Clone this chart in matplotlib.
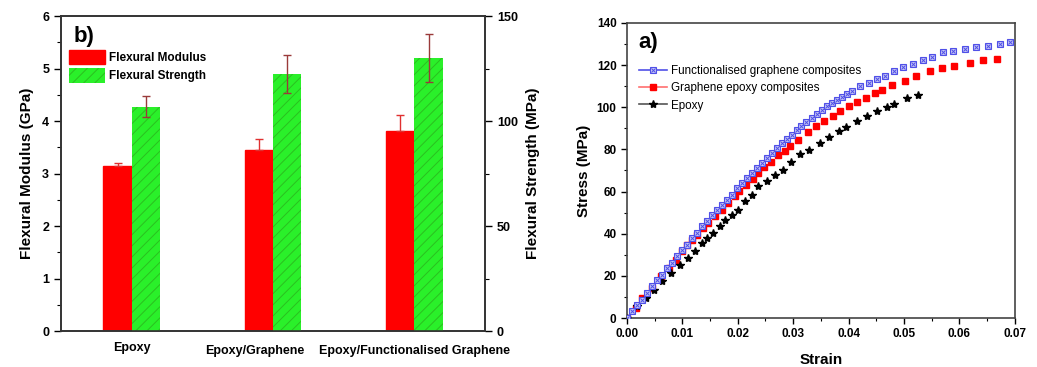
import numpy as np
import matplotlib.pyplot as plt
import matplotlib.transforms as mtransforms
from matplotlib.lines import Line2D
from matplotlib.ticker import MultipleLocator

plt.rcParams['font.family'] = ['Liberation Sans', 'DejaVu Sans']
plt.rcParams['font.weight'] = 'bold'
plt.rcParams['hatch.linewidth'] = 0.7

# --- datos panel b (barras) ---
muestras = ['Epoxy', 'Epoxy/Graphene', 'Epoxy/Functionalised Graphene']
modulo = [3.15, 3.45, 3.82]          # GPa
modulo_err = [0.06, 0.20, 0.30]
resistencia = [106.8, 122.5, 130.0]  # MPa
resistencia_err = [5.0, 9.0, 11.4]

# --- datos panel a (curvas esfuerzo-deformacion) ---
def_func = [0.0, 0.0009, 0.0018, 0.0027, 0.0036, 0.0045, 0.0054, 0.0063, 0.0072,
            0.0081, 0.009, 0.0099, 0.0108, 0.0117, 0.0126, 0.0135, 0.0144, 0.0153,
            0.0162, 0.0171, 0.018, 0.0189, 0.0198, 0.0207, 0.0216, 0.0225, 0.0234,
            0.0243, 0.0252, 0.0261, 0.027, 0.0279, 0.0288, 0.0297, 0.0306, 0.0315,
            0.0324, 0.0334, 0.0343, 0.0352, 0.0361, 0.037, 0.0379, 0.0388, 0.0397,
            0.0406, 0.0421, 0.0436, 0.0451, 0.0466, 0.0482, 0.0499, 0.0516, 0.0534,
            0.055, 0.0571, 0.0589, 0.061, 0.063, 0.0652, 0.0673, 0.0691]
esf_func = [0.0, 3.2, 6.3, 8.7, 11.9, 15.0, 18.2, 20.6, 23.7, 26.1, 29.3, 32.4,
            34.8, 38.0, 40.3, 43.5, 45.9, 49.0, 51.4, 53.8, 56.2, 58.5, 61.7, 64.1,
            66.5, 68.8, 71.2, 73.6, 75.9, 78.3, 80.7, 82.8, 84.7, 87.0, 89.4, 91.3,
            92.9, 94.9, 97.0, 98.9, 100.5, 102.1, 103.6, 104.9, 106.3, 107.6, 110.0,
            111.6, 113.4, 115.0, 117.4, 119.0, 120.7, 122.3, 123.9, 126.0, 126.6,
            127.7, 128.8, 129.0, 129.9, 130.8]

def_graf = [0.0, 0.0017, 0.0027, 0.0045, 0.0061, 0.0075, 0.0089, 0.0099, 0.0108,
            0.0117, 0.0126, 0.0138, 0.0147, 0.0158, 0.0171, 0.0183, 0.0195, 0.0203,
            0.0215, 0.0227, 0.0237, 0.0248, 0.026, 0.0273, 0.0285, 0.0294, 0.0308,
            0.0326, 0.0342, 0.0356, 0.0371, 0.0385, 0.04, 0.0416, 0.0431, 0.0448,
            0.046, 0.0479, 0.0502, 0.0522, 0.0547, 0.0568, 0.0591, 0.0619, 0.0643,
            0.0667]
esf_graf = [0.0, 4.7, 9.5, 14.2, 19.8, 23.7, 27.7, 31.6, 34.8, 37.2, 39.6, 42.7,
            45.1, 48.3, 51.4, 54.6, 57.8, 60.1, 63.3, 66.0, 68.8, 71.7, 74.0, 77.2,
            79.4, 81.5, 84.3, 88.1, 91.0, 93.4, 96.0, 98.1, 100.5, 102.7, 104.4,
            106.8, 108.4, 110.4, 112.3, 114.7, 117.0, 118.4, 119.5, 121.0, 122.3,
            122.9]

def_epoxi = [0.0, 0.0018, 0.0035, 0.0048, 0.0063, 0.0079, 0.0096, 0.0111, 0.0123,
             0.0135, 0.0144, 0.0156, 0.0168, 0.0177, 0.0189, 0.02, 0.0213, 0.0225,
             0.0237, 0.0252, 0.0267, 0.0282, 0.0296, 0.0312, 0.0329, 0.0349, 0.0365,
             0.0382, 0.0395, 0.0415, 0.0433, 0.0451, 0.0469, 0.0482, 0.0505, 0.0525]
esf_epoxi = [0.0, 5.5, 9.5, 13.4, 17.4, 21.4, 25.3, 28.5, 31.6, 35.6, 38.0, 40.3,
             43.5, 46.7, 49.0, 51.4, 55.4, 58.5, 62.5, 64.9, 67.7, 70.4, 73.9, 78.0,
             79.6, 83.1, 85.9, 88.6, 90.7, 93.4, 95.7, 98.1, 100.2, 101.6, 104.4,
             106.0]

fig = plt.figure(figsize=(10.37, 3.67), dpi=100)

# ================= panel b =================
ax1 = fig.add_axes([0.0588, 0.098, 0.409, 0.858])
ax2 = ax1.twinx()
x = np.arange(1, len(muestras) + 1)
ancho = 0.2

b1 = ax1.bar(x - ancho / 2, modulo, ancho, color='#ff0000', edgecolor='#ff0000',
             label='Flexural Modulus', zorder=2)
ax1.errorbar(x - ancho / 2, modulo, yerr=[np.zeros(3), modulo_err], fmt='none',
             ecolor='#e03030', elinewidth=1, capsize=3, zorder=3)

b2 = ax2.bar(x + ancho / 2, resistencia, ancho, color='#2af02a', edgecolor='#2bbf20',
             hatch='///', linewidth=0, label='Flexural Strength', zorder=2)
ax2.errorbar(x + ancho / 2, resistencia, yerr=resistencia_err, fmt='none',
             ecolor='#9a3a3a', elinewidth=1, capsize=3, zorder=3)

ax1.set_xlim(0.5, 3.5)
ax1.set_ylim(0, 6)
ax2.set_ylim(0, 150)
ax1.set_xticks(x)
ax1.set_xticklabels(muestras, fontsize=9, fontweight='bold')
ax1.tick_params(axis='x', length=0, pad=10)
# desplazar etiquetas para que no se monten
desplaz = [(0, 3), (-18, 0), (0, 0)]
for lab, (dx, dy) in zip(ax1.get_xticklabels(), desplaz):
    lab.set_transform(lab.get_transform() +
                      mtransforms.ScaledTranslation(dx / 100, dy / 100, fig.dpi_scale_trans))
ax1.yaxis.set_major_locator(MultipleLocator(1))
ax1.yaxis.set_minor_locator(MultipleLocator(0.5))
ax2.yaxis.set_major_locator(MultipleLocator(50))
ax2.yaxis.set_minor_locator(MultipleLocator(25))
for a in (ax1, ax2):
    a.tick_params(axis='y', which='major', direction='out', length=5, width=1,
                  labelsize=9)
    a.tick_params(axis='y', which='minor', direction='out', length=3, width=0.8)
    for s in a.spines.values():
        s.set_linewidth(1.2)
        s.set_color('#333333')
ax1.set_ylabel('Flexural Modulus (GPa)', fontsize=11, fontweight='bold', labelpad=6)
ax2.set_ylabel('Flexural Strength (MPa)', fontsize=11, fontweight='bold', labelpad=6)
ax1.text(0.03, 0.97, 'b)', transform=ax1.transAxes, fontsize=16,
         fontweight='bold', va='top', ha='left')
ax1.legend([b1, b2], ['Flexural Modulus', 'Flexural Strength'], loc='upper left',
           bbox_to_anchor=(0.0, 0.92), frameon=False, fontsize=8.5,
           handlelength=3.0, handleheight=1.5, handletextpad=0.4, labelspacing=0.35,
           borderaxespad=0.3)

# ================= panel a =================
ax3 = fig.add_axes([0.6046, 0.1335, 0.374, 0.804])
ax3.plot(def_func, esf_func, ls='none', marker='s', ms=5, mfc='#c8c8f4',
         mec='#5050e8', mew=0.8, zorder=3)
ax3.plot(def_func, esf_func, ls='none', marker='x', ms=3.5, color='#5050e8',
         mew=0.7, zorder=4)
ax3.plot(def_graf, esf_graf, ls='none', marker='s', ms=5, mfc='#ff0000',
         mec='#ff0000', zorder=2)
ax3.plot(def_epoxi, esf_epoxi, ls='none', marker='*', ms=6, mfc='black',
         mec='black', zorder=2)

ax3.set_xlim(0, 0.07)
ax3.set_ylim(0, 140)
ax3.xaxis.set_major_locator(MultipleLocator(0.01))
ax3.xaxis.set_minor_locator(MultipleLocator(0.005))
ax3.yaxis.set_major_locator(MultipleLocator(20))
ax3.yaxis.set_minor_locator(MultipleLocator(10))
ax3.xaxis.set_major_formatter(plt.FormatStrFormatter('%.2f'))
ax3.tick_params(which='major', direction='out', length=4, width=1, labelsize=8.5)
ax3.tick_params(which='minor', direction='out', length=2, width=0.8)
for s in ax3.spines.values():
    s.set_linewidth(1.2)
    s.set_color('#444444')
ax3.set_xlabel('Strain', fontsize=11, fontweight='bold', labelpad=9)
ax3.set_ylabel('Stress (MPa)', fontsize=11, fontweight='bold')
ax3.text(0.03, 0.97, 'a)', transform=ax3.transAxes, fontsize=16,
         fontweight='bold', va='top', ha='left')

# leyenda con linea continua y simbolo en medio
h1 = (Line2D([], [], color='#5050e8', lw=1.2, marker='s', ms=5, mfc='#c8c8f4',
             mec='#5050e8', mew=0.8),
      Line2D([], [], ls='none', marker='x', ms=3.5, color='#5050e8', mew=0.7))
h2 = Line2D([], [], color='#ff7070', lw=1.2, marker='s', ms=5, mfc='#ff0000',
            mec='#ff0000')
h3 = Line2D([], [], color='#555555', lw=1.2, marker='*', ms=6, mfc='black',
            mec='black')
ax3.legend([h1, h2, h3],
           ['Functionalised graphene composites', 'Graphene epoxy composites', 'Epoxy'],
           loc='upper left', bbox_to_anchor=(0.01, 0.885), frameon=False,
           prop={'size': 8.4, 'weight': 'normal'}, handlelength=2.4,
           handletextpad=0.3, labelspacing=0.45, borderaxespad=0.3)

fig.savefig('out.png', dpi=100)
